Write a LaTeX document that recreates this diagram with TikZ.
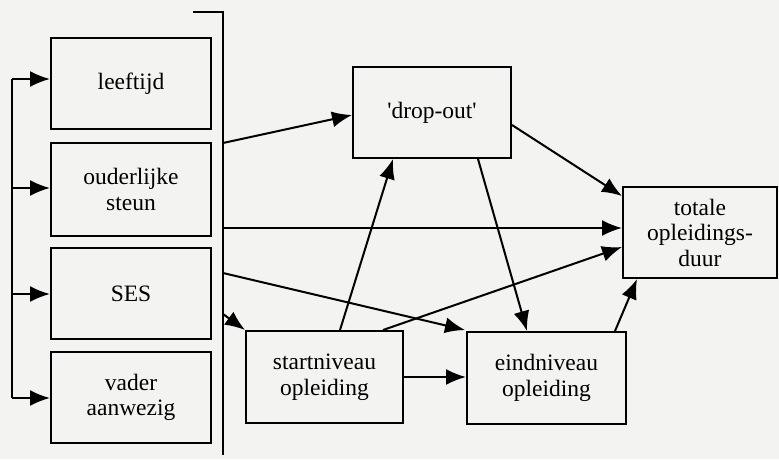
\documentclass[tikz,border=0pt]{standalone}
\usepackage{fontspec}
\setmainfont{Liberation Serif}
\usepackage{tikz}
\usetikzlibrary{shapes,arrows.meta,calc}
\tikzset{>={Latex[length=20pt,width=16pt]}}
\definecolor{scanbg}{RGB}{243,243,241}

\begin{document}
\begin{tikzpicture}[x=1pt, y=-1pt, line width=2pt, font=\fontsize{23.5}{25.5}\selectfont]
  \newcommand{\boxw}{158pt}
  \newcommand{\boxh}{91pt}
  \tikzset{var/.style={rectangle, minimum height=\boxh, minimum width=\boxw, %%
      align=center, inner sep=0pt, draw, fill=scanbg}}

  \useasboundingbox[fill=scanbg] (0,0) rectangle (779,459);

  % background variables
  \node[var, minimum width=160pt] (leeftijd) at (131,83.5) {leeftijd};
  \node[var, minimum width=160pt, minimum height=93pt] (steun) at (131,189.5) {ouderlijke\\steun};
  \node[var, minimum width=160pt] (ses) at (131,293.5) {SES};
  \node[var, minimum width=160pt] (vader) at (131,397.5) {vader\\aanwezig};

  % education variables
  \node[var, minimum width=157pt, minimum height=92pt] (start) at (324.5,377) {startniveau\\opleiding};
  \node[var, minimum width=159pt, minimum height=92pt] (eind) at (546.5,378) {eindniveau\\opleiding};
  \node[var] (dropout) at (432,112.5) {\textquotesingle drop-out\textquotesingle};
  \node[var, minimum width=154pt] (duur) at (700,232.5) {totale\\opleidings-\\duur};

  % bracket on the left
  \coordinate (brtop) at (12,79);
  \coordinate (brbot) at (12,398);
  \draw (brtop) -- (brbot);
  \draw[->] (brtop) -- (brtop -| leeftijd.west);
  \draw[->] (brtop |- 0,188) -- (steun.west |- 0,188);
  \draw[->] (brtop |- 0,294) -- (ses.west |- 0,294);
  \draw[->] (brbot) -- (brbot -| vader.west);

  % bar on the right of the block
  \coordinate (bartop) at (193,12);
  \coordinate (barcorner) at (223,12);
  \coordinate (barbot) at (223,455);
  \draw (bartop) -- (barcorner) -- (barbot);
  \coordinate (b1) at (223,143);
  \coordinate (b2) at (223,228);
  \coordinate (b3) at (223,273);
  \coordinate (b4) at (223,314);

  \draw[->] (b1) -- ($(dropout.west)+(0,2.5)$);
  \draw[->] (b2) -- (b2 -| duur.west);
  \draw[->] (b3) -- ($(eind.north west)+(-1,-1)$);
  \draw[->] (b4) -- (start.north west);

  \draw[->] ($(start.north)+(15.5,0)$) -- ($(dropout.south)+(-39,0)$);
  \draw[->] ($(start.north)+(58.5,0)$) -- ($(duur.west)+(0,14.5)$);
  \draw[->] (start.east) -- (start.east -| eind.west);

  \draw[->] ($(dropout.south)+(46,0)$) -- ($(eind.north)+(-19.5,0)$);
  \draw[->] ($(dropout.east)+(0,12.5)$) -- ($(duur.north west)+(0,10)$);
  \draw[->] ($(eind.north east)+(-12,0)$) -- ($(duur.south west)+(15,0)$);
\end{tikzpicture}
\end{document}
